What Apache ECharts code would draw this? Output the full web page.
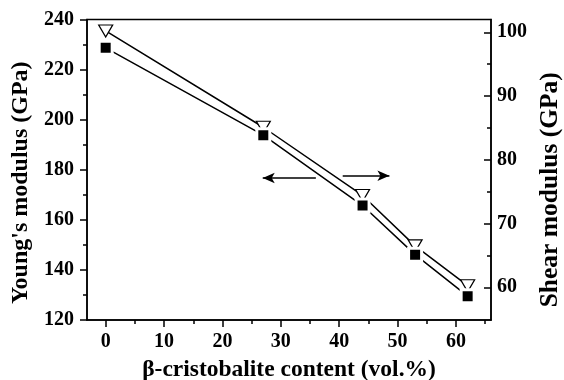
<!DOCTYPE html>
<html>
<head>
<meta charset="utf-8">
<style>
  html, body { margin: 0; padding: 0; background: #fff; }
  #main { width: 564px; height: 380px; }
</style>
<script src="https://cdn.jsdelivr.net/npm/echarts@6.0.0/dist/echarts.min.js"></script>
</head>
<body>
<div id="main"></div>
<script>
// β-cristobalite content (vol.%)
const content = [0, 27, 44, 53, 62];
// Young's modulus (GPa), left axis
const youngs = [228.7, 193.8, 165.7, 146.1, 129.5];
// Shear modulus (GPa), right axis
const shear = [100.2, 85.1, 74.4, 66.5, 60.25];

// tick labels
const xLabels = [0, 10, 20, 30, 40, 50, 60];
const xMinor = [5, 15, 25, 35, 45, 55, 65];
const shearLabels = [60, 70, 80, 90, 100];
const shearMinor = [65, 75, 85, 95];

const font = 'Liberation Serif';
const black = '#000';

const chart = echarts.init(document.getElementById('main'), null, { renderer: 'canvas' });

const baseX = {
  type: 'value',
  position: 'bottom',
  min: -3.2,
  max: 66,
  splitLine: { show: false },
};

const option = {
  animation: false,
  grid: {
    left: 87, right: 73, top: 19.5, bottom: 60,
    outerBoundsMode: 'none',
    containLabel: false,
    show: true,
    borderColor: black,
    borderWidth: 1.5,
    backgroundColor: 'transparent',
  },
  xAxis: [
    Object.assign({}, baseX, {
      name: 'β-cristobalite content (vol.%)',
      nameLocation: 'middle',
      nameGap: 38,
      nameTextStyle: { fontFamily: font, fontWeight: 'bold', fontSize: 23.5, color: black },
      axisLine: { onZero: false, lineStyle: { color: black, width: 1.5 } },
      axisTick: { customValues: xLabels, length: 7, lineStyle: { color: black, width: 1.5 } },
      axisLabel: { customValues: xLabels, margin: 12, fontFamily: font, fontWeight: 'bold', fontSize: 20, color: black },
    }),
    // minor ticks every 5
    Object.assign({}, baseX, {
      axisLine: { show: false, onZero: false },
      axisTick: { customValues: xMinor, length: 4, lineStyle: { color: black, width: 1.5 } },
      axisLabel: { show: false },
    }),
  ],
  yAxis: [
    {
      type: 'value',
      position: 'left',
      min: 120,
      max: 240,
      interval: 20,
      name: "Young's modulus (GPa)",
      nameLocation: 'middle',
      nameGap: 50,
      // right padding pushes the rotated title down a little
      nameTextStyle: { fontFamily: font, fontWeight: 'bold', fontSize: 24, color: black, padding: [0, 26, 0, 0] },
      splitLine: { show: false },
      axisLine: { show: true, onZero: false, lineStyle: { color: black, width: 1.5 } },
      axisTick: { length: 7, lineStyle: { color: black, width: 1.5 } },
      minorTick: { show: true, splitNumber: 2, length: 4, lineStyle: { color: black, width: 1.5 } },
      axisLabel: { margin: 13, fontFamily: font, fontWeight: 'bold', fontSize: 20, color: black },
    },
    {
      type: 'value',
      position: 'right',
      min: 54.87,
      max: 102,
      name: 'Shear modulus (GPa)',
      nameLocation: 'middle',
      nameGap: 42,
      nameRotate: 90,
      nameTextStyle: { fontFamily: font, fontWeight: 'bold', fontSize: 25.5, color: black, padding: [0, 40, 0, 0] },
      splitLine: { show: false },
      axisLine: { show: true, onZero: false, lineStyle: { color: black, width: 1.5 } },
      axisTick: { inside: true, customValues: shearLabels, length: 7, lineStyle: { color: black, width: 1.5 } },
      axisLabel: { customValues: shearLabels, margin: 6, fontFamily: font, fontWeight: 'bold', fontSize: 20, color: black },
    },
    {
      // minor ticks for shear axis
      type: 'value',
      position: 'right',
      min: 54.87,
      max: 102,
      splitLine: { show: false },
      axisLine: { show: false, onZero: false },
      axisTick: { inside: true, customValues: shearMinor, length: 4, lineStyle: { color: black, width: 1.5 } },
      axisLabel: { show: false },
    },
  ],
  series: [
    {
      name: "Young's modulus",
      type: 'line',
      xAxisIndex: 0,
      yAxisIndex: 0,
      data: content.map((x, i) => [x, youngs[i]]),
      symbol: 'rect',
      symbolSize: 13,
      itemStyle: { color: black, borderColor: '#fff', borderWidth: 3 },
      lineStyle: { color: black, width: 1.5 },
      z: 3,
      markLine: {
        silent: true,
        symbol: ['none', 'arrow'],
        symbolSize: [8, 12],
        label: { show: false },
        lineStyle: { color: black, width: 1.5, type: 'solid' },
        data: [[{ coord: [36, 176.7] }, { coord: [26.9, 176.7] }]],
      },
    },
    {
      name: 'Shear modulus',
      type: 'line',
      xAxisIndex: 0,
      yAxisIndex: 1,
      data: content.map((x, i) => [x, shear[i]]),
      symbol: 'triangle',
      symbolRotate: 180,
      symbolSize: [14, 12],
      itemStyle: { color: '#fff', borderColor: black, borderWidth: 1.2 },
      lineStyle: { color: black, width: 1.5 },
      z: 2,
      markLine: {
        silent: true,
        symbol: ['none', 'arrow'],
        symbolSize: [8, 12],
        label: { show: false },
        lineStyle: { color: black, width: 1.5, type: 'solid' },
        data: [[{ coord: [40.6, 77.5] }, { coord: [48.6, 77.5] }]],
      },
    },
  ],
};

chart.setOption(option);
</script>
</body>
</html>
